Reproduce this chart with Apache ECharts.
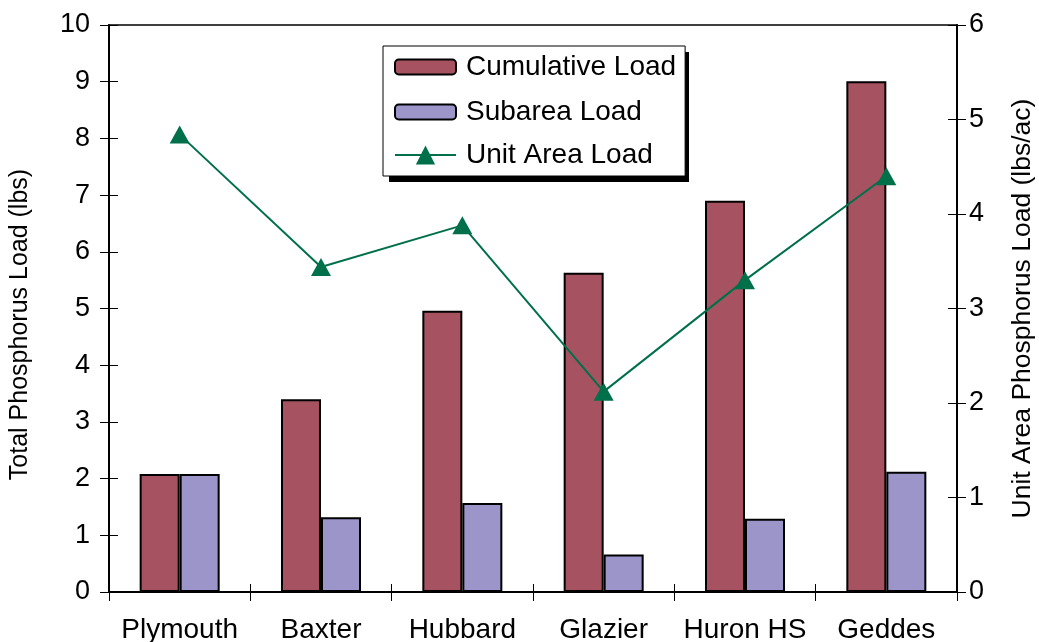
<!DOCTYPE html>
<html>
<head>
<meta charset="utf-8">
<script src="https://cdn.jsdelivr.net/npm/echarts@6/dist/echarts.min.js"></script>
<style>
  html, body { margin: 0; padding: 0; background: #fff; }
  #chart { width: 1039px; height: 642px; }
</style>
</head>
<body>
<div id="chart"></div>
<script>
// Subwatershed names along the x axis
const sites = ['Plymouth', 'Baxter', 'Hubbard', 'Glazier', 'Huron HS', 'Geddes'];
// Total phosphorus load, lbs (left axis)
const cumulativeLoad = [2.08, 3.40, 4.96, 5.63, 6.90, 9.01];
const subareaLoad = [2.08, 1.32, 1.57, 0.66, 1.29, 2.12];
// Unit area phosphorus load, lbs/ac (right axis)
const unitAreaLoad = [4.84, 3.44, 3.88, 2.12, 3.30, 4.40];

const FONT = '"Liberation Sans", Arial, sans-serif';
const INK = '#000';
const GREEN = '#00704A';

const chart = echarts.init(document.getElementById('chart'), null, { renderer: 'canvas' });

const legendText = { fontFamily: FONT, fontSize: 28, color: INK, lineHeight: 30, padding: [0, 0, 0, 5] };

chart.setOption({
  animation: false,
  backgroundColor: '#fff',
  textStyle: { fontFamily: FONT, color: INK },
  grid: {
    left: 109, right: 82, top: 25, bottom: 50,
    outerBoundsMode: 'none', containLabel: false,
    show: true, borderColor: INK, borderWidth: 1.5, backgroundColor: 'transparent'
  },
  // drop shadow behind the legend box
  graphic: [{
    type: 'rect', z: 1, silent: true,
    shape: { x: 389, y: 52, width: 300, height: 130 },
    style: { fill: INK }
  }],
  legend: [
    {
      // bar entries; the box is padded to also hold the line entry below
      orient: 'vertical', left: 383, top: 46, z: 10,
      padding: [6, 9, 49, 11],
      itemWidth: 61, itemHeight: 15, itemGap: 15,
      backgroundColor: '#fff', borderColor: INK, borderWidth: 1,
      textStyle: legendText,
      data: ['Cumulative Load', 'Subarea Load']
    },
    {
      // line entry, taller so the triangle marker shows at full size
      orient: 'vertical', left: 394, top: 140, z: 11,
      padding: 0,
      itemWidth: 61, itemHeight: 24,
      textStyle: legendText,
      data: ['Unit Area Load']
    }
  ],
  xAxis: [
    {
      type: 'category', data: sites, position: 'bottom', boundaryGap: true,
      axisLine: { lineStyle: { color: INK, width: 2 } },
      axisTick: { show: true, length: 9, lineStyle: { color: INK, width: 1 } },
      axisLabel: { interval: 0, fontFamily: FONT, fontSize: 28, color: INK, margin: 24 }
    },
    {
      type: 'category', data: sites, position: 'bottom', boundaryGap: true,
      axisLine: { show: false },
      axisTick: { show: true, inside: true, length: 8, lineStyle: { color: INK, width: 1 } },
      axisLabel: { show: false }
    }
  ],
  yAxis: [
    {
      type: 'value', position: 'left', min: 0, max: 10, interval: 1,
      name: 'Total Phosphorus Load (lbs)', nameLocation: 'middle', nameGap: 76, nameRotate: 90,
      nameTextStyle: { fontFamily: FONT, fontSize: 25, color: INK, padding: [0, 32, 0, 0] },
      axisLine: { show: true, lineStyle: { color: INK, width: 2 } },
      axisTick: { show: true, length: 9, lineStyle: { color: INK, width: 1 } },
      axisLabel: { fontFamily: FONT, fontSize: 27, color: INK, margin: 19 },
      splitLine: { show: false }
    },
    {
      type: 'value', position: 'right', min: 0, max: 6, interval: 1,
      name: 'Unit Area Phosphorus Load (lbs/ac)', nameLocation: 'middle', nameGap: 52, nameRotate: 90,
      nameTextStyle: { fontFamily: FONT, fontSize: 26.5, color: INK },
      axisLine: { show: true, lineStyle: { color: INK, width: 2 } },
      axisTick: { show: true, length: 9, lineStyle: { color: INK, width: 1 } },
      axisLabel: { fontFamily: FONT, fontSize: 27, color: INK, margin: 12 },
      splitLine: { show: false }
    },
    {
      type: 'value', position: 'left', min: 0, max: 10, interval: 1,
      axisLine: { show: false },
      axisTick: { show: true, inside: true, length: 9, lineStyle: { color: INK, width: 1 } },
      axisLabel: { show: false }, splitLine: { show: false }
    },
    {
      type: 'value', position: 'right', min: 0, max: 6, interval: 1,
      axisLine: { show: false },
      axisTick: { show: true, inside: true, length: 9, lineStyle: { color: INK, width: 1 } },
      axisLabel: { show: false }, splitLine: { show: false }
    }
  ],
  series: [
    {
      name: 'Cumulative Load', type: 'bar', xAxisIndex: 0, yAxisIndex: 0,
      data: cumulativeLoad, barWidth: 40, barGap: '0%',
      itemStyle: { color: '#A65260', borderColor: INK, borderWidth: 2 }
    },
    {
      name: 'Subarea Load', type: 'bar', xAxisIndex: 0, yAxisIndex: 0,
      data: subareaLoad, barWidth: 40, barGap: '0%',
      itemStyle: { color: '#9B95C9', borderColor: INK, borderWidth: 2 }
    },
    {
      name: 'Unit Area Load', type: 'line', xAxisIndex: 0, yAxisIndex: 1,
      data: unitAreaLoad,
      symbol: 'triangle', symbolSize: [20, 18],
      lineStyle: { color: GREEN, width: 2 },
      itemStyle: { color: GREEN },
      z: 5
    }
  ]
});
</script>
</body>
</html>
